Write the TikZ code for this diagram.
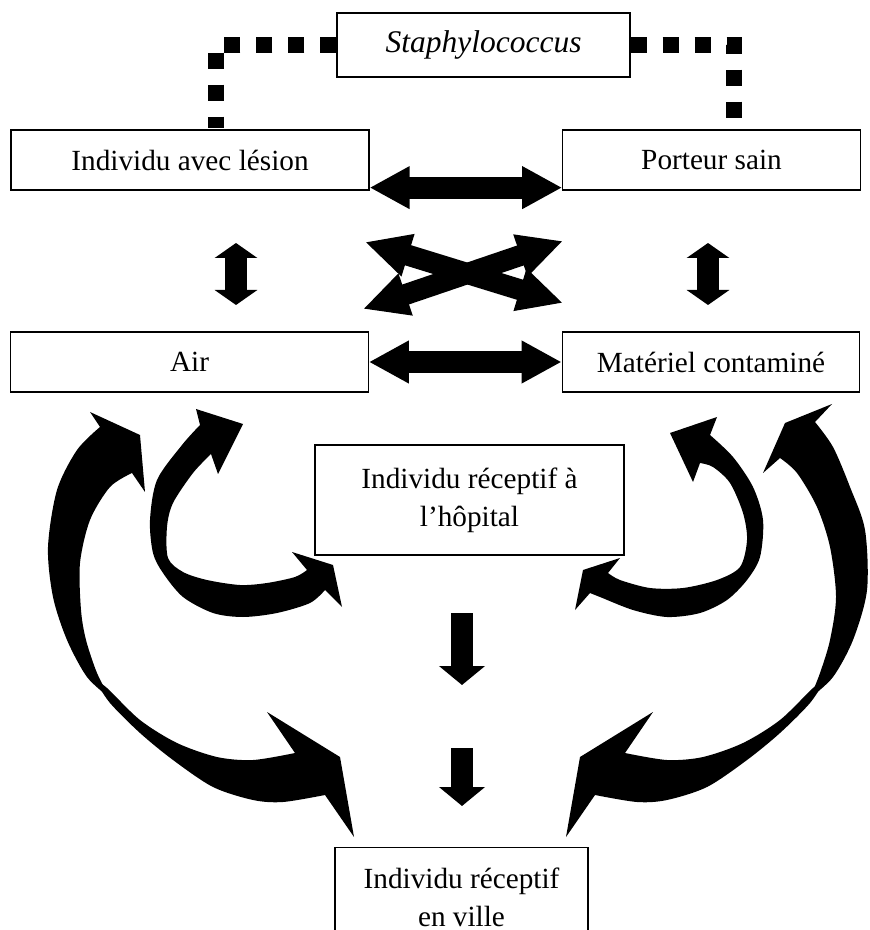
\documentclass[tikz,border=0pt]{standalone}
\usepackage{fontspec}
\setmainfont{Liberation Serif}
\usetikzlibrary{arrows.meta}
\newcommand\colorBox{black}
\newcommand\colorArrow{black}
\newcommand\boxLine{0.5pt}
\newcommand\boxFont{\fontsize{11.7}{15.2}\selectfont}
\tikzset{
	box/.style={draw=\colorBox, line width=\boxLine, align=center, inner sep=0pt, font=\boxFont},
	dotlink/.style={draw=\colorArrow, line width=6.4pt, dash pattern=on 6.4pt off 6.4pt},
	hblock/.style={draw=\colorArrow, line width=8.8pt, {Triangle[length=16pt,width=16pt]}-{Triangle[length=16pt,width=16pt]}},
	xblock/.style={draw=\colorArrow, line width=8.4pt, {Triangle[length=18pt,width=16.4pt]}-{Triangle[length=18pt,width=16.4pt]}},
	vblock/.style={draw=\colorArrow, line width=8.8pt, {Triangle[length=6pt,width=16.8pt]}-{Triangle[length=6pt,width=16.8pt]}},
	downblock/.style={draw=\colorArrow, line width=8.8pt, -{Triangle[length=7.6pt,width=18pt]}}
}

\begin{document}
\begin{tikzpicture}[x=0.4pt,y=-0.4pt]
	\useasboundingbox (0,0) rectangle (869,930);
	\clip (0,0) rectangle (869,930);
	
	\node[box, minimum width=117.2pt, minimum height=25.6pt, font=\fontsize{12.6}{15.2}\selectfont] (staph) at (483.5,45) {\textit{Staphylococcus}};
	\node[box, minimum width=143.2pt, minimum height=24pt] (lesion) at (190,160) {Individu avec lésion};
	\node[box, minimum width=119pt, minimum height=24pt] (porteur) at (711.5,160) {Porteur sain};
	\node[box, minimum width=143pt, minimum height=24pt] (air) at (189.5,362) {Air};
	\node[box, minimum width=119pt, minimum height=24pt] (materiel) at (711,362) {Matériel contaminé};
	\node[box, minimum width=123.6pt, minimum height=44pt] (hopital) at (469.5,500) {Individu réceptif à\\l’hôpital};
	\node[box, anchor=north, minimum width=101.2pt, inner xsep=6pt, inner ysep=8pt] (ville) at (461.5,847) {Individu réceptif\\en ville\\[6pt]};
	
	\coordinate (dotL) at (216,128);
	\coordinate (dotR) at (734,128);
	\draw[dotlink] (staph.west) -| (dotL);
	\draw[dotlink] (staph.east) -| (dotR);
	
	\draw[hblock] ([yshift=1.2pt]lesion.south east) to ([yshift=1.2pt]porteur.south west);
	\draw[hblock] (air.east) to (materiel.west);
	
	\coordinate (xa) at (365,242);
	\coordinate (xb) at (563,303);
	\coordinate (xc) at (363,309);
	\coordinate (xd) at (563,241);
	\draw[xblock] (xa) to (xb);
	\draw[xblock] (xc) to (xd);
	
	\foreach \px/\name in {236/vl,708/vr}{
		\coordinate (\name top) at (\px,243);
		\coordinate (\name bot) at (\px,305);
		\draw[vblock] (\name top) to (\name bot);
	}
	
	\coordinate (da) at (462,613);
	\coordinate (db) at (462,685);
	\coordinate (dc) at (462,748);
	\coordinate (dd) at (462,806);
	\draw[downblock] (da) to (db);
	\draw[downblock] (dc) to (dd);
	
	% curved arrows, left side
	\fill[\colorArrow] plot[smooth] coordinates {(110,698) (87,677) (67,640) (53,597) (48,547) (57,490) (77,450) (100,427)}
	-- (90,412) -- (140,435) -- (145,492) -- (132,473)
	-- plot[smooth] coordinates {(132,473) (110,487) (90,520) (80,563) (81,610) (86,640) (97,673) (110,698)} -- cycle;
	\fill[\colorArrow] plot[smooth] coordinates {(200,425) (182,445) (157,480) (150,520) (153,553) (163,573) (183,597) (213,613) (243,617) (277,613) (310,603) (325,590)}
	-- (342,607) -- (333,565) -- (292,552) -- (307,570)
	-- plot[smooth] coordinates {(307,570) (295,577) (267,583) (240,585) (207,580) (183,572) (168,558) (167,527) (173,503) (193,473) (211,454)}
	-- (218,474) -- (243,424) -- (196,409) -- cycle;
	\fill[\colorArrow] plot[smooth] coordinates {(95,680) (110,703) (140,733) (173,760) (213,787) (253,800) (283,802) (325,795)}
	-- (354,837) -- (340,757) -- (267,712) -- (295,753)
	-- plot[smooth] coordinates {(295,753) (253,760) (217,757) (177,743) (140,720) (107,688) (95,680)} -- cycle;
	
	% curved arrows, right side
	\fill[\colorArrow] plot[smooth] coordinates {(710,435) (733,457) (753,487) (763,520) (760,557) (747,580) (727,600) (700,613) (667,617) (633,610) (600,597) (590,593)}
	-- (575,610) -- (583,570) -- (620,558) -- (608,573)
	-- plot[smooth] coordinates {(608,573) (620,580) (650,588) (683,588) (717,580) (740,567) (747,540) (743,513) (730,483) (713,467) (700,463)}
	-- (693,482) -- (670,433) -- (717,417) -- cycle;
	\fill[\colorArrow] plot[smooth] coordinates {(810,698) (833,677) (853,640) (867,590) (865,530) (850,487) (833,447) (815,422)}
	-- (832,404) -- (785,423) -- (763,473) -- (780,458)
	-- plot[smooth] coordinates {(780,458) (797,473) (817,507) (830,547) (836,597) (830,640) (820,673) (810,698)} -- cycle;
	\fill[\colorArrow] plot[smooth] coordinates {(825,680) (810,703) (780,733) (747,760) (707,787) (667,800) (637,802) (595,795)}
	-- (566,837) -- (580,757) -- (653,712) -- (625,753)
	-- plot[smooth] coordinates {(625,753) (667,760) (703,757) (743,743) (780,720) (813,688) (825,680)} -- cycle;
\end{tikzpicture}
\end{document}
